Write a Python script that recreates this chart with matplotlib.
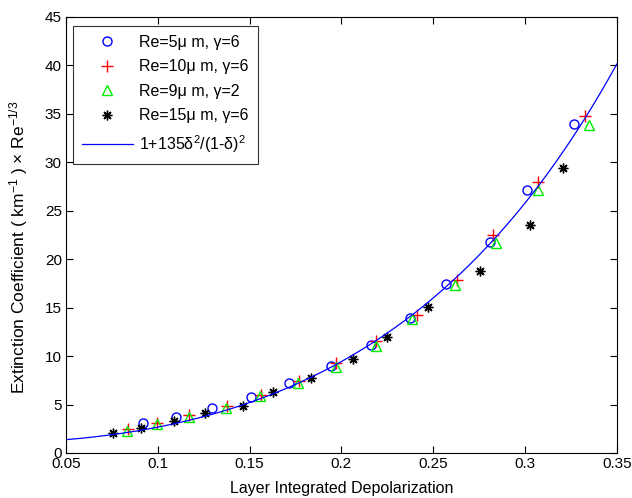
import numpy as np
import matplotlib
matplotlib.use("Agg")
import matplotlib.pyplot as plt

plt.rcParams['font.family'] = ['Liberation Sans', 'DejaVu Sans']
plt.rcParams['mathtext.fontset'] = 'custom'
plt.rcParams['mathtext.rm'] = 'Liberation Sans'
plt.rcParams['mathtext.it'] = 'Liberation Sans'

# Data
circ_x = [0.0918, 0.110, 0.1293, 0.1505, 0.1713, 0.1946, 0.216, 0.2373, 0.2568, 0.281, 0.3013, 0.3268]
circ_y = [3.06, 3.75, 4.60, 5.74, 7.23, 9.02, 11.16, 13.9, 17.46, 21.76, 27.17, 33.99]

plus_x = [0.0838, 0.0998, 0.1172, 0.1376, 0.1562, 0.1767, 0.1972, 0.2187, 0.2409, 0.2628, 0.2824, 0.3073, 0.3324]
plus_y = [2.45, 3.10, 3.90, 4.80, 6.00, 7.40, 9.26, 11.53, 14.26, 17.87, 22.45, 27.95, 34.74]

tri_x = [0.0830, 0.0993, 0.1168, 0.1370, 0.1558, 0.1762, 0.1970, 0.2191, 0.2382, 0.2618, 0.2842, 0.3073, 0.3349]
tri_y = [2.30, 3.00, 3.75, 4.65, 5.85, 7.20, 8.84, 11.0, 13.84, 17.36, 21.65, 27.10, 33.81]

star_x = [0.0755, 0.0909, 0.1088, 0.1258, 0.1464, 0.1628, 0.1833, 0.2064, 0.2251, 0.2469, 0.2755, 0.3028, 0.3206]
star_y = [2.02, 2.54, 3.27, 4.09, 4.89, 6.26, 7.75, 9.70, 12.01, 15.04, 18.83, 23.55, 29.44]

coef = 135
x_ticks = [0.05, 0.1, 0.15, 0.2, 0.25, 0.3, 0.35]
x_ticklabels = ['0.05', '0.1', '0.15', '0.2', '0.25', '0.3', '0.35']
y_ticks = [0, 5, 10, 15, 20, 25, 30, 35, 40, 45]

labels = ['Re=5\u03bc m, \u03b3=6', 'Re=10\u03bc m, \u03b3=6', 'Re=9\u03bc m, \u03b3=2',
          'Re=15\u03bc m, \u03b3=6', '1+135\u03b4$^2$/(1-\u03b4)$^2$']

fig = plt.figure(figsize=(6.32, 4.98), dpi=100)
ax = fig.add_axes([0.1044, 0.0904, 0.8716, 0.8756])

d = np.linspace(0.05, 0.35, 300)
fs = 11
ax.plot(circ_x, circ_y, linestyle='none', marker='o', mfc='none', mec='#0000ff', ms=6.5, mew=1.0, label=labels[0])
ax.plot(plus_x, plus_y, linestyle='none', marker='+', color='#ff0000', ms=8, mew=1.0, label=labels[1])
ax.plot(tri_x, tri_y, linestyle='none', marker='^', mfc='none', mec='#00ee00', ms=7.5, mew=1.0, label=labels[2])
ax.plot(star_x, star_y, linestyle='none', marker=(8, 2, 0), color='black', ms=7, mew=1.0, label=labels[3])
ax.plot(d, 1 + coef * d**2 / (1 - d)**2, color='#0000ff', lw=0.9, label=labels[4])

ax.set_xlim(0.05, 0.35)
ax.set_ylim(0, 45)
ax.set_xticks(x_ticks)
ax.set_xticklabels(x_ticklabels)
ax.set_yticks(y_ticks)
ax.tick_params(direction='in', top=True, right=True, length=5, width=0.8, labelsize=fs, pad=3)
for s in ax.spines.values():
    s.set_linewidth(0.8)

ax.set_xlabel('Layer Integrated Depolarization', fontsize=11.5, labelpad=7)
ax.set_ylabel('Extinction Coefficient ( km$^{-1}$ ) \u00d7 Re$^{-1/3}$', fontsize=12.5)
ax.yaxis.set_label_coords(-0.066, 0.472)

leg = ax.legend(loc='upper left', bbox_to_anchor=(7 / 551, 1 - 9 / 436), borderaxespad=0,
                prop={'size': 11.5}, frameon=True, fancybox=False, edgecolor='black',
                handlelength=3.2, handletextpad=0.4, labelspacing=0.6, borderpad=0.55)
leg.get_frame().set_linewidth(0.8)

fig.savefig('out.png', dpi=100)
